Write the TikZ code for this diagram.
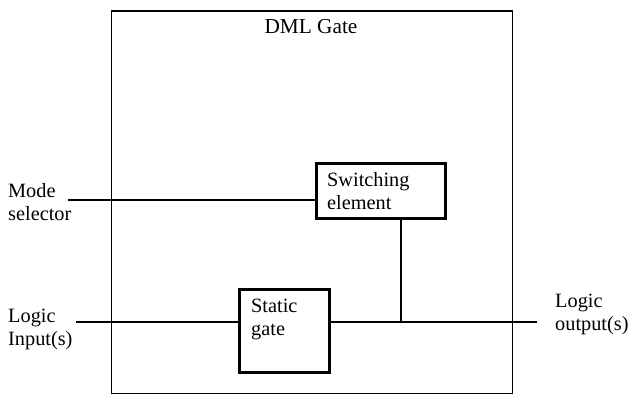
\documentclass[tikz,border=0pt]{standalone}
\usepackage{fontspec}
\setmainfont{Liberation Serif}
\begin{document}
\begin{tikzpicture}[x=1pt,y=-1pt,
  lbl/.style={inner sep=0pt,anchor=base west,align=left,font=\fontsize{20.3}{22.5}\selectfont},
  blockbox/.style={draw,line width=2.6pt,inner sep=0pt},
  wire/.style={line width=1.4pt},
  heavywire/.style={line width=2.4pt}]
\useasboundingbox (0,0) rectangle (631,396);
% outer DML gate enclosure
\node[draw,line width=1.3pt,inner sep=0pt,minimum width=401pt,minimum height=382.5pt,anchor=north west] (gate) at (110.5,10.5) {};
\node[lbl,anchor=base,font=\fontsize{21.3}{23}\selectfont] (title) at (311,34) {DML Gate};
% inner blocks
\node[blockbox,minimum width=129pt,minimum height=55pt,anchor=north west] (sw) at (315,162) {};
\node[lbl] (swtext) at (327,209) {Switching\\element};
\node[blockbox,minimum width=90pt,minimum height=83pt,anchor=north west] (sg) at (238,288) {};
\node[lbl] (sgtext) at (251,335) {Static\\gate};
% external labels
\node[lbl] (mode) at (8,220) {Mode\\selector};
\node[lbl] (lin) at (8,345) {Logic\\Input(s)};
\node[lbl] (lout) at (555,330) {Logic\\output(s)};
% connection points
\coordinate (modeend) at (68,200);
\coordinate (inend) at (76,322);
\coordinate (outend) at (537,322);
\coordinate (join) at (401,322);
% wires
\draw[heavywire] (modeend) -- (sw.west |- modeend);
\draw[heavywire] (inend) -- (sg.west |- inend);
\draw[wire] (sg.east |- join) -- (join) -- (outend);
\draw[wire] (sw.south -| join) -- (join);
\end{tikzpicture}
\end{document}
